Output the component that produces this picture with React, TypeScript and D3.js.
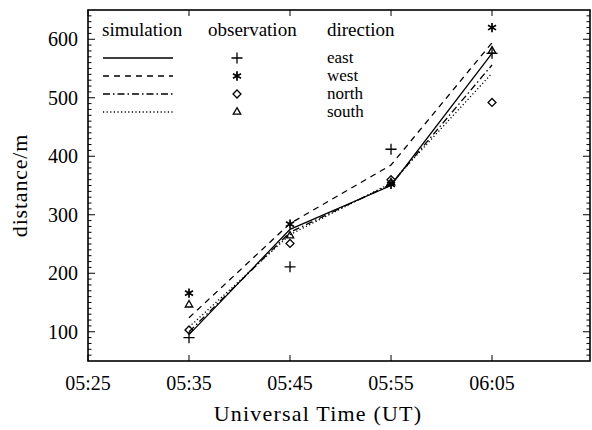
import React from "react";
import * as d3 from "d3";

// minutes after 05:25
const times = [10, 20, 30, 40];
const xTickMinutes = [0, 10, 20, 30, 40];
const xTickLabels = ["05:25", "05:35", "05:45", "05:55", "06:05"];
const yTicks = [100, 200, 300, 400, 500, 600];

const directions = ["east", "west", "north", "south"];
const simEast = [95, 275, 350, 576];
const simWest = [124, 285, 385, 594];
const simNorth = [100, 270, 352, 556];
const simSouth = [108, 266, 354, 542];
const obsEast = [90, 211, 412, 576];
const obsWest = [166, 284, 352, 620];
const obsNorth = [103, 251, 360, 492];
const obsSouth = [146, 264, 355, 580];

const sims = [simEast, simWest, simNorth, simSouth];
const obs = [obsEast, obsWest, obsNorth, obsSouth];
const dashes = ["none", "6,5", "7,3,1.5,3", "1.2,2.4"];

const W = 592;
const H = 430;
const left = 88;
const right = 590;
const top = 10;
const bottom = 361;
const serif = "Liberation Serif, DejaVu Serif, serif";

const symbolFor = (i: number) => {
  const s = [d3.symbolPlus, d3.symbolAsterisk, d3.symbolDiamond2, d3.symbolTriangle2][i];
  const size = [42, 60, 40, 40][i];
  return d3.symbol(s, size)();
};

const App = () => {
  const x = d3.scaleLinear().domain([0, 49.7]).range([left, right]);
  const y = d3.scaleLinear().domain([50, 650]).range([bottom, top]);
  const line = d3
    .line<number>()
    .x((d, i) => x(times[i]))
    .y((d) => y(d));

  const minor = d3.range(60, 650, 10);

  return (
    <svg width={W} height={H} style={{ position: "absolute", left: 0, top: 0, background: "#fff" }}>
      <rect x={left} y={top} width={right - left} height={bottom - top} fill="none" stroke="#000" strokeWidth={1.6} />

      {minor.map((v) => {
        const len = v % 100 === 0 ? 7 : 3.5;
        return (
          <g key={v}>
            <line x1={left} x2={left + len} y1={y(v)} y2={y(v)} stroke="#000" strokeWidth={1} />
            <line x1={right} x2={right - len} y1={y(v)} y2={y(v)} stroke="#000" strokeWidth={1} />
          </g>
        );
      })}
      {yTicks.map((v) => (
        <text key={v} x={left - 10} y={y(v)} dy="0.35em" textAnchor="end" fontSize={20} fontFamily={serif}>
          {v}
        </text>
      ))}

      {xTickMinutes.map((m, i) => (
        <g key={m}>
          <line x1={x(m)} x2={x(m)} y1={bottom} y2={bottom - 6} stroke="#000" strokeWidth={1} />
          <line x1={x(m)} x2={x(m)} y1={top} y2={top + 6} stroke="#000" strokeWidth={1} />
          <text x={x(m)} y={bottom + 29} textAnchor="middle" fontSize={20} fontFamily={serif}>
            {xTickLabels[i]}
          </text>
        </g>
      ))}

      <text x={318} y={421} textAnchor="middle" fontSize={22} letterSpacing={1.2} fontFamily={serif}>
        Universal Time (UT)
      </text>
      <text
        transform={`translate(27, ${(top + bottom) / 2}) rotate(-90)`}
        textAnchor="middle"
        fontSize={22}
        letterSpacing={0.8}
        fontFamily={serif}
      >
        distance/m
      </text>

      {sims.map((s, i) => (
        <path key={i} d={line(s) || ""} fill="none" stroke="#000" strokeWidth={1.3} strokeDasharray={dashes[i]} />
      ))}

      {obs.map((o, i) =>
        o.map((v, j) => (
          <path
            key={`${i}-${j}`}
            d={symbolFor(i) || ""}
            transform={`translate(${x(times[j])},${y(v)})`}
            fill="none"
            stroke="#000"
            strokeWidth={i === 1 ? 1.7 : 1.3}
          />
        ))
      )}

      <g fontSize={19} fontFamily={serif}>
        <text x={102} y={36}>simulation</text>
        <text x={208} y={36}>observation</text>
        <text x={327} y={36}>direction</text>
      </g>
      <g fontSize={17} fontFamily={serif}>
        {directions.map((d, i) => {
          const ry = 58 + i * 18;
          return (
            <g key={d}>
              <line x1={103} x2={173} y1={ry} y2={ry} stroke="#000" strokeWidth={1.3} strokeDasharray={dashes[i]} />
              <path
                d={symbolFor(i) || ""}
                transform={`translate(237,${ry})`}
                fill="none"
                stroke="#000"
                strokeWidth={i === 1 ? 1.7 : 1.3}
              />
              <text x={327} y={ry + 5}>{d}</text>
            </g>
          );
        })}
      </g>
    </svg>
  );
};

export default App;
